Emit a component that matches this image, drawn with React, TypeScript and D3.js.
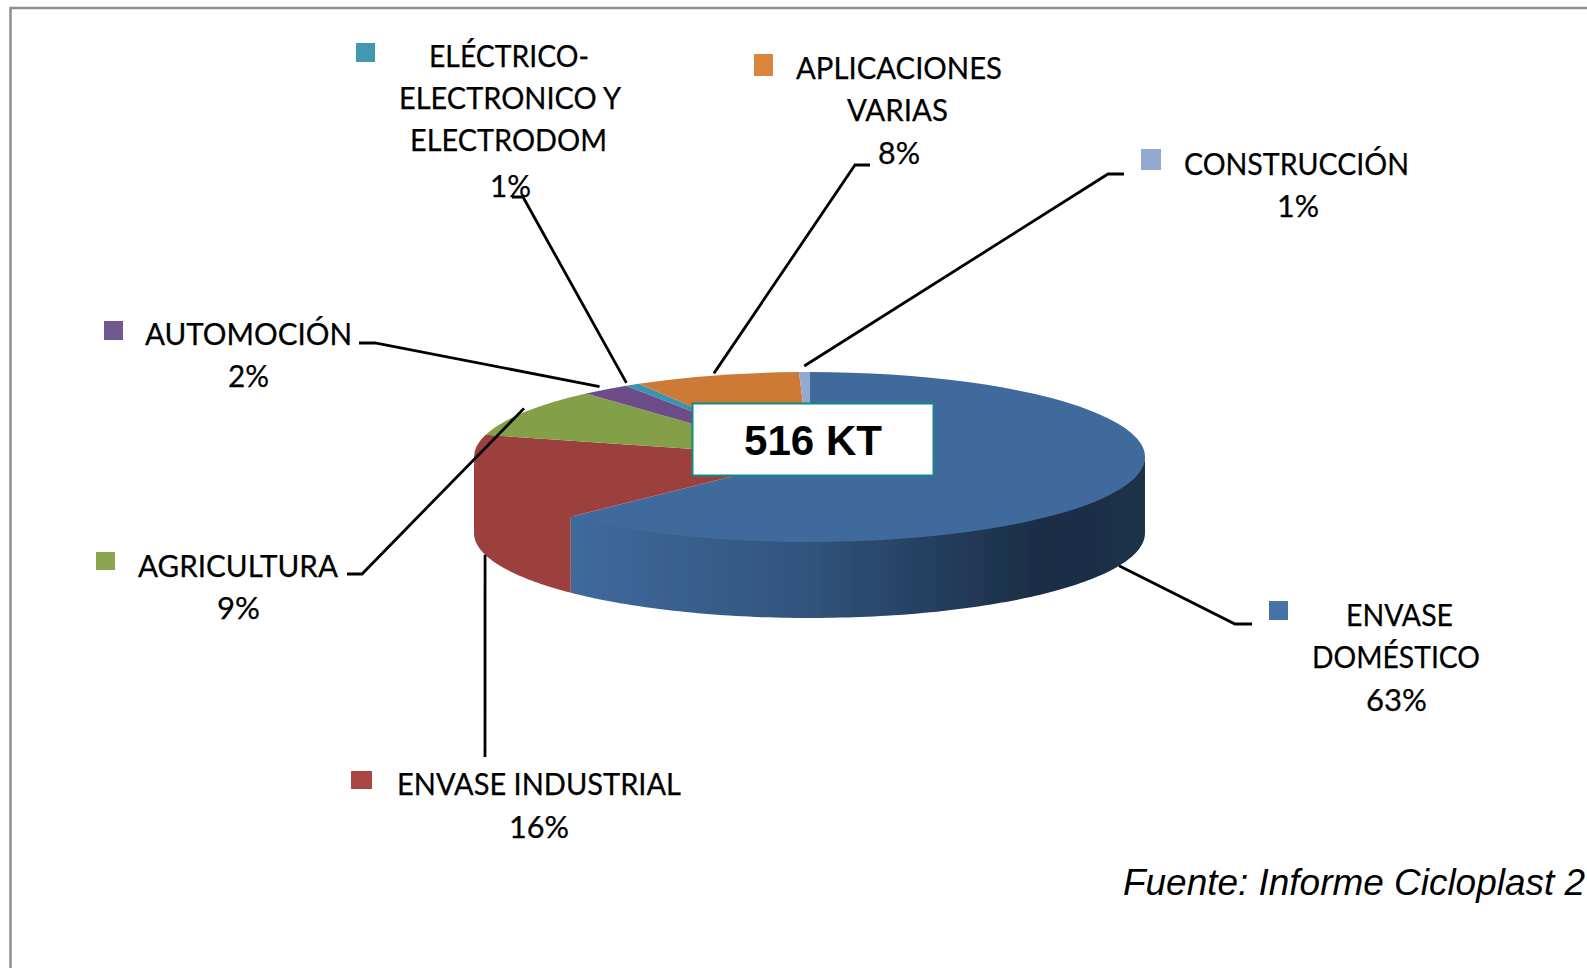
import React from "react";
import * as d3 from "d3";

// ---- data ----
const categories = ["ENVASE DOMÉSTICO", "ENVASE INDUSTRIAL", "AGRICULTURA", "AUTOMOCIÓN", "ELÉCTRICO-ELECTRONICO Y ELECTRODOM", "APLICACIONES VARIAS", "CONSTRUCCIÓN"];
const shares = [62.6, 16.6, 9.2, 2.4, 0.7, 8.0, 0.5];
const percentLabels = ["63%", "16%", "9%", "2%", "1%", "8%", "1%"];
const totalLabel = "516 KT";
const sourceLabel = "Fuente: Informe Cicloplast 2";

// ---- styling ----
const topColors = ["#3f6a9c", "#9c403e", "#83a04a", "#6c4e8a", "#3a94ad", "#cc7a36", "#93a9cf"];
const keyColors = ["#4573a7", "#aa4644", "#89a54e", "#71588f", "#4198af", "#db843d", "#93a9cf"];
const wallFills = ["url(#wall0)", "#9c403e"];

// ---- layout ----
const W = 1587, H = 968;
const cx = 809.5, cy = 457, rx = 335.5, ry = 85, depth = 76;
const labelFont = "Lato, 'Open Sans', sans-serif";

type Line = { t: string; x0: number; x1: number; y: number };
type Lay = { swatch: [number, number, number, number]; lines: Line[]; elbow: [number, number][]; front: boolean; nudge: [number, number] };

const layouts: Lay[] = [
  { swatch: [1269, 601, 19, 19], front: true, nudge: [0, 0], elbow: [[1235, 624], [1252, 624]], lines: [
    { t: "ENVASE", x0: 1346, x1: 1453, y: 626 }, { t: "DOMÉSTICO", x0: 1312, x1: 1480, y: 668 }] },
  { swatch: [351, 771, 21, 18], front: true, nudge: [0, 0], elbow: [[485, 757]], lines: [
    { t: "ENVASE INDUSTRIAL", x0: 397, x1: 681, y: 795 }] },
  { swatch: [96, 552, 19, 18], front: false, nudge: [0, -4], elbow: [[362, 574], [347, 574]], lines: [
    { t: "AGRICULTURA", x0: 138, x1: 338, y: 577 }] },
  { swatch: [104, 321, 19, 19], front: false, nudge: [-6, -3], elbow: [[375, 343], [359, 343]], lines: [
    { t: "AUTOMOCIÓN", x0: 145, x1: 352, y: 345 }] },
  { swatch: [356, 43, 19, 19], front: false, nudge: [-6, -2], elbow: [[523, 197], [512, 197]], lines: [
    { t: "ELÉCTRICO-", x0: 429, x1: 589, y: 67 }, { t: "ELECTRONICO Y", x0: 399, x1: 621, y: 109 }, { t: "ELECTRODOM", x0: 410, x1: 607, y: 151 }] },
  { swatch: [754, 54, 19, 22], front: false, nudge: [-2, -2], elbow: [[855, 165], [870, 165]], lines: [
    { t: "APLICACIONES", x0: 796, x1: 1002, y: 79 }, { t: "VARIAS", x0: 847, x1: 948, y: 121 }] },
  { swatch: [1141, 149, 20, 21], front: false, nudge: [0, -6], elbow: [[1108, 174], [1124, 174]], lines: [
    { t: "CONSTRUCCIÓN", x0: 1184, x1: 1409, y: 175 }] },
];
const percentPos: [number, number, number][] = [
  [1366, 1427, 711], [509, 569, 838], [217, 260, 619], [228, 269, 387], [490, 531, 197], [878, 920, 164], [1277, 1319, 217],
];

const px = (a: number) => cx + rx * Math.sin(a);
const py = (a: number) => cy - ry * Math.cos(a);

export default function App() {
  const pie = d3.pie<number>().sort(null).value((d) => d)(shares);
  const arc = d3.arc<any>().innerRadius(0).outerRadius(rx);

  const wall = d3.area<number>().x((a) => px(a)).y0((a) => py(a) - 1).y1((a) => py(a) + depth);
  const walls = pie.map((s, i) => {
    const a0 = Math.max(s.startAngle, Math.PI / 2);
    const a1 = Math.min(s.endAngle, (3 * Math.PI) / 2);
    if (a1 <= a0) return null;
    const angles = d3.range(0, 121).map((k) => a0 + ((a1 - a0) * k) / 120);
    return { i, d: wall(angles)! };
  }).filter(Boolean) as { i: number; d: string }[];

  const leader = d3.line();

  return (
    <svg width={W} height={H} viewBox={`0 0 ${W} ${H}`} style={{ position: "absolute", left: 0, top: 0, background: "#fff" }}>
      <defs>
        <linearGradient id="wall0" gradientUnits="userSpaceOnUse" x1={569} x2={1145} y1={0} y2={0}>
          <stop offset="0" stopColor="#3f6a9c" />
          <stop offset="0.4" stopColor="#32557f" />
          <stop offset="0.82" stopColor="#1a2d45" />
          <stop offset="1" stopColor="#1c3149" />
        </linearGradient>
        <filter id="soft" x="-5%" y="-5%" width="110%" height="110%">
          <feGaussianBlur stdDeviation="0.7" />
        </filter>
      </defs>

      {/* frame */}
      <path d={`M10.5 ${H} V8 H${W}`} fill="none" stroke="#8f8f8f" strokeWidth={2.5} />

      {/* pie */}
      <g filter="url(#soft)">
        {walls.map((w) => (
          <path key={w.i} d={w.d} fill={wallFills[w.i]} />
        ))}
        <g transform={`translate(${cx},${cy}) scale(1,${ry / rx})`}>
          {pie.map((s, i) => (
            <path key={i} d={arc(s)!} fill={topColors[i]} />
          ))}
        </g>
      </g>

      {/* leader lines */}
      {pie.map((s, i) => {
        const mid = (s.startAngle + s.endAngle) / 2;
        const l = layouts[i];
        const start: [number, number] = [px(mid) + l.nudge[0], py(mid) + (l.front ? depth : 0) + l.nudge[1]];
        return <path key={i} d={leader([start, ...l.elbow])!} fill="none" stroke="#000" strokeWidth={2.8} />;
      })}

      {/* swatches and labels */}
      {categories.map((c, i) => {
        const l = layouts[i];
        const p = percentPos[i];
        return (
          <g key={c}>
            <rect x={l.swatch[0]} y={l.swatch[1]} width={l.swatch[2]} height={l.swatch[3]} fill={keyColors[i]} />
            <g fill="#000" stroke="#000" strokeWidth={0.25} fontFamily={labelFont} fontSize={30}>
              {l.lines.map((ln) => (
                <text key={ln.t} x={ln.x0} y={ln.y} textLength={ln.x1 - ln.x0} lengthAdjust="spacingAndGlyphs">{ln.t}</text>
              ))}
              <text x={p[0]} y={p[2]} textLength={p[1] - p[0]} lengthAdjust="spacingAndGlyphs">{percentLabels[i]}</text>
            </g>
          </g>
        );
      })}

      {/* total box */}
      <rect x={692.5} y={403.5} width={241} height={72} fill="#fff" stroke="#0f8a85" strokeWidth={2} />
      <text x={744} y={455} textLength={138} lengthAdjust="spacingAndGlyphs" fontFamily="'Liberation Sans', Arial, sans-serif" fontWeight="bold" fontSize={43} fill="#000">{totalLabel}</text>

      {/* source */}
      <text x={1123} y={895} textLength={462} lengthAdjust="spacingAndGlyphs" fontFamily="'Liberation Sans', Arial, sans-serif" fontStyle="italic" fontSize={37} fill="#000">{sourceLabel}</text>
    </svg>
  );
}
